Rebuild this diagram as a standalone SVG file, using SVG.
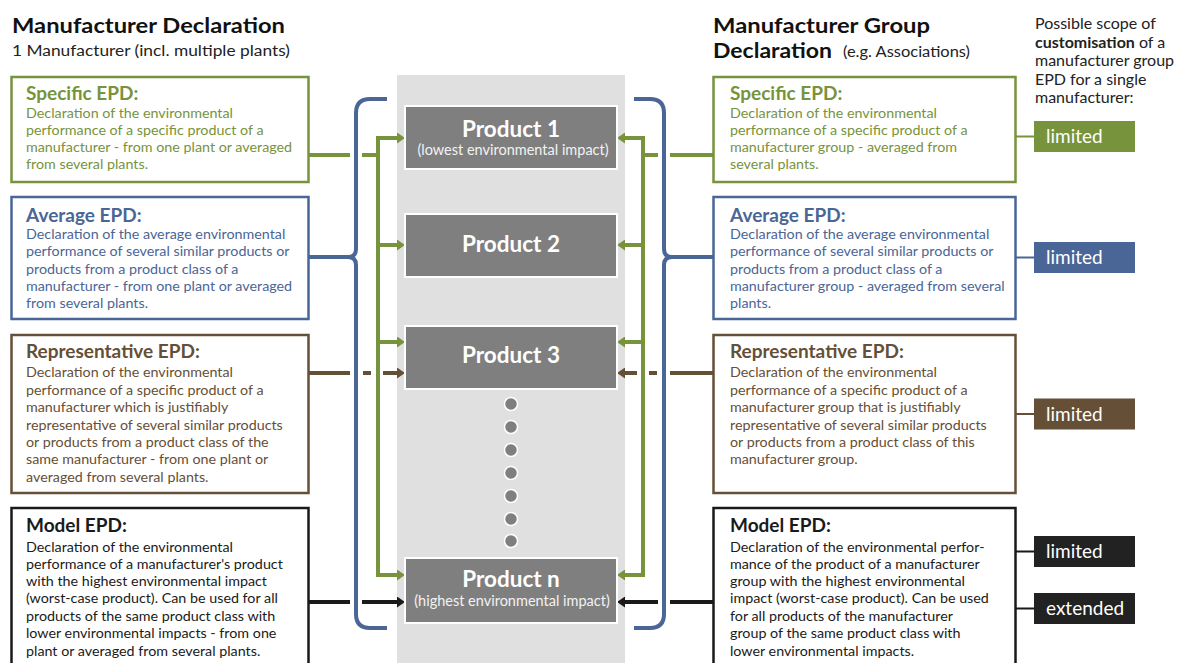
<svg xmlns="http://www.w3.org/2000/svg" width="1177" height="663" viewBox="0 0 1177 663">
<style>
text{font-family:Lato,"Liberation Sans",Arial,sans-serif}
.h{font-size:21px;font-weight:700;fill:#111}
.sub{font-size:14.5px;fill:#222}
.fr{font-size:16px;fill:#222}
.t{font-size:19px;font-weight:700}
.b{font-size:14.3px}
.g{fill:#77933C}.bl{fill:#4A6696}.br{fill:#654F36}.k{fill:#1a1a1a}
.box{fill:#fff;stroke-width:2.5}
.pbox{fill:#7F7F7F;stroke:#fff;stroke-width:2}
.pt{font-size:22.5px;font-weight:700;fill:#fff;text-anchor:middle}
.ps{font-size:14.5px;fill:#f2f2f2;text-anchor:middle}
.lim{font-size:19px;fill:#fff}
.c{fill:none;stroke-width:4}
.thin{fill:none;stroke-width:2}
.dot{fill:#7F7F7F;stroke:#fff;stroke-width:1.5}
</style>
<defs>
<marker id="ag" markerUnits="userSpaceOnUse" markerWidth="8" markerHeight="11" refX="0" refY="5.5" orient="auto-start-reverse"><path d="M0,0 L8,5.5 L0,11 z" fill="#77933C"/></marker>
<marker id="ab" markerUnits="userSpaceOnUse" markerWidth="8" markerHeight="11" refX="0" refY="5.5" orient="auto"><path d="M0,0 L8,5.5 L0,11 z" fill="#654F36"/></marker>
<marker id="ak" markerUnits="userSpaceOnUse" markerWidth="8" markerHeight="11" refX="0" refY="5.5" orient="auto"><path d="M0,0 L8,5.5 L0,11 z" fill="#1a1a1a"/></marker>
</defs>

<g id="headers">
<text class="h" x="12" y="33" textLength="273" lengthAdjust="spacingAndGlyphs">Manufacturer Declaration</text>
<text class="sub" x="12" y="56" textLength="278" lengthAdjust="spacingAndGlyphs">1 Manufacturer (incl. multiple plants)</text>
<text class="h" x="713" y="33" textLength="217" lengthAdjust="spacingAndGlyphs">Manufacturer Group</text>
<text class="h" x="713" y="58" textLength="119" lengthAdjust="spacingAndGlyphs">Declaration</text>
<text class="sub" x="843" y="57" textLength="127" lengthAdjust="spacingAndGlyphs">(e.g. Associations)</text>
<text class="fr" x="1035" y="29">Possible scope of</text>
<text class="fr" x="1035" y="47.5"><tspan font-weight="700">customisation</tspan> of a</text>
<text class="fr" x="1035" y="66">manufacturer group</text>
<text class="fr" x="1035" y="84.5">EPD for a single</text>
<text class="fr" x="1035" y="103">manufacturer:</text>
</g>

<rect id="column" x="397" y="75" width="228" height="600" fill="#E0E0E0"/>

<g id="connectors">
<path class="c" stroke="#4A6696" d="M387,99 H370 Q356,99 356,113 V249 Q356,257 348,257 H309 M348,257 Q356,257 356,265 V614 Q356,628 370,628 H387"/>
<path class="c" stroke="#4A6696" d="M634,99 H650 Q664,99 664,113 V249 Q664,257 672,257 H713 M672,257 Q664,257 664,265 V614 Q664,628 650,628 H634"/>
<path class="c" stroke="#77933C" d="M397,138 H378 V575 H397" marker-start="url(#ag)" marker-end="url(#ag)"/>
<path class="c" stroke="#77933C" d="M378,245 H397" marker-end="url(#ag)"/>
<path class="c" stroke="#77933C" d="M378,342 H397" marker-end="url(#ag)"/>
<path class="c" stroke="#77933C" d="M309,155 H350 M362,155 H378"/>
<path class="c" stroke="#77933C" d="M625,138 H643 V575 H625" marker-start="url(#ag)" marker-end="url(#ag)"/>
<path class="c" stroke="#77933C" d="M643,245 H625" marker-end="url(#ag)"/>
<path class="c" stroke="#77933C" d="M643,342 H625" marker-end="url(#ag)"/>
<path class="c" stroke="#77933C" d="M713,155 H670 M658,155 H643"/>
<path class="c" stroke="#654F36" d="M309,373 H350 M363,373 H371"/>
<path class="c" stroke="#654F36" d="M383,373 H397" marker-end="url(#ab)"/>
<path class="c" stroke="#654F36" d="M713,373 H670 M657,373 H649"/>
<path class="c" stroke="#654F36" d="M637,373 H625" marker-end="url(#ab)"/>
<path class="c" stroke="#1a1a1a" d="M309,602 H350"/>
<path class="c" stroke="#1a1a1a" d="M362,602 H397" marker-end="url(#ak)"/>
<path class="c" stroke="#1a1a1a" d="M713,602 H670"/>
<path class="c" stroke="#1a1a1a" d="M658,602 H625" marker-end="url(#ak)"/>
<path class="thin" stroke="#77933C" d="M1016,136.5 H1035"/>
<path class="thin" stroke="#4A6696" d="M1016,257.5 H1035"/>
<path class="thin" stroke="#654F36" d="M1016,414 H1035"/>
<path class="thin" stroke="#1a1a1a" d="M1016,551.5 H1035 M1016,608.5 H1035"/>
</g>

<g id="products">
<g id="product1"><rect class="pbox" x="405" y="106" width="212" height="63"/>
<text class="pt" x="511" y="137">Product 1</text><text class="ps" x="513" y="155">(lowest environmental impact)</text></g>
<g id="product2"><rect class="pbox" x="405" y="214" width="212" height="63"/>
<text class="pt" x="511" y="252">Product 2</text></g>
<g id="product3"><rect class="pbox" x="405" y="326" width="212" height="63"/>
<text class="pt" x="511" y="363">Product 3</text></g>
<g id="dots">
<circle class="dot" cx="511" cy="404" r="6.5"/><circle class="dot" cx="511" cy="427" r="6.5"/>
<circle class="dot" cx="511" cy="450" r="6.5"/><circle class="dot" cx="511" cy="473" r="6.5"/>
<circle class="dot" cx="511" cy="496" r="6.5"/><circle class="dot" cx="511" cy="519" r="6.5"/>
<circle class="dot" cx="511" cy="541" r="6.5"/></g>
<g id="productn"><rect class="pbox" x="405" y="558" width="212" height="65"/>
<text class="pt" x="511" y="587">Product n</text><text class="ps" x="512" y="606">(highest environmental impact)</text></g>
</g>

<g id="left-specific">
<rect class="box" stroke="#77933C" x="11.5" y="77" width="297" height="105"/>
<text class="t g" x="26" y="100">Specific EPD:</text>
<text class="b g" x="26" y="118">Declaration of the environmental</text>
<text class="b g" x="26" y="135">performance of a specific product of a</text>
<text class="b g" x="26" y="152">manufacturer - from one plant or averaged</text>
<text class="b g" x="26" y="168.5">from several plants.</text>
</g>
<g id="left-average">
<rect class="box" stroke="#4A6696" x="11.5" y="197" width="297" height="122"/>
<text class="t bl" x="26" y="222">Average EPD:</text>
<text class="b bl" x="26" y="238.5">Declaration of the average environmental</text>
<text class="b bl" x="26" y="256">performance of several similar products or</text>
<text class="b bl" x="26" y="273.5">products from a product class of a</text>
<text class="b bl" x="26" y="291">manufacturer - from one plant or averaged</text>
<text class="b bl" x="26" y="308">from several plants.</text>
</g>
<g id="left-representative">
<rect class="box" stroke="#654F36" x="11.5" y="335" width="297" height="158"/>
<text class="t br" x="26" y="358">Representative EPD:</text>
<text class="b br" x="26" y="377">Declaration of the environmental</text>
<text class="b br" x="26" y="394.5">performance of a specific product of a</text>
<text class="b br" x="26" y="412">manufacturer which is justifiably</text>
<text class="b br" x="26" y="429.5">representative of several similar products</text>
<text class="b br" x="26" y="447">or products from a product class of the</text>
<text class="b br" x="26" y="464">same manufacturer - from one plant or</text>
<text class="b br" x="26" y="481.5">averaged from several plants.</text>
</g>
<g id="left-model">
<rect class="box" stroke="#1a1a1a" x="11.5" y="508" width="297" height="180"/>
<text class="t k" x="26" y="532">Model EPD:</text>
<text class="b k" x="26" y="551.5">Declaration of the environmental</text>
<text class="b k" x="26" y="568.5">performance of a manufacturer's product</text>
<text class="b k" x="26" y="586">with the highest environmental impact</text>
<text class="b k" x="26" y="603">(worst-case product). Can be used for all</text>
<text class="b k" x="26" y="620.5">products of the same product class with</text>
<text class="b k" x="26" y="638">lower environmental impacts - from one</text>
<text class="b k" x="26" y="655.5">plant or averaged from several plants.</text>
</g>

<g id="right-specific">
<rect class="box" stroke="#77933C" x="713.5" y="77" width="302" height="105"/>
<text class="t g" x="730" y="100">Specific EPD:</text>
<text class="b g" x="730" y="118">Declaration of the environmental</text>
<text class="b g" x="730" y="135">performance of a specific product of a</text>
<text class="b g" x="730" y="152">manufacturer group - averaged from</text>
<text class="b g" x="730" y="168.5">several plants.</text>
</g>
<g id="right-average">
<rect class="box" stroke="#4A6696" x="713.5" y="197" width="302" height="122"/>
<text class="t bl" x="730" y="222">Average EPD:</text>
<text class="b bl" x="730" y="238.5">Declaration of the average environmental</text>
<text class="b bl" x="730" y="256">performance of several similar products or</text>
<text class="b bl" x="730" y="273.5">products from a product class of a</text>
<text class="b bl" x="730" y="291">manufacturer group - averaged from several</text>
<text class="b bl" x="730" y="308">plants.</text>
</g>
<g id="right-representative">
<rect class="box" stroke="#654F36" x="713.5" y="335" width="302" height="158"/>
<text class="t br" x="730" y="358">Representative EPD:</text>
<text class="b br" x="730" y="377">Declaration of the environmental</text>
<text class="b br" x="730" y="394.5">performance of a specific product of a</text>
<text class="b br" x="730" y="412">manufacturer group that is justifiably</text>
<text class="b br" x="730" y="429.5">representative of several similar products</text>
<text class="b br" x="730" y="447">or products from a product class of this</text>
<text class="b br" x="730" y="464">manufacturer group.</text>
</g>
<g id="right-model">
<rect class="box" stroke="#1a1a1a" x="713.5" y="508" width="302" height="180"/>
<text class="t k" x="730" y="532">Model EPD:</text>
<text class="b k" x="730" y="551.5">Declaration of the environmental perfor-</text>
<text class="b k" x="730" y="568.5">mance of the product of a manufacturer</text>
<text class="b k" x="730" y="586">group with the highest environmental</text>
<text class="b k" x="730" y="603">impact (worst-case product). Can be used</text>
<text class="b k" x="730" y="620.5">for all products of the manufacturer</text>
<text class="b k" x="730" y="638">group of the same product class with</text>
<text class="b k" x="730" y="655.5">lower environmental impacts.</text>
</g>

<g id="scope-specific"><rect x="1034" y="121" width="101" height="31" fill="#77933C"/><text class="lim" x="1046" y="143">limited</text></g>
<g id="scope-average"><rect x="1034" y="242" width="101" height="31" fill="#4A6696"/><text class="lim" x="1046" y="264">limited</text></g>
<g id="scope-representative"><rect x="1034" y="398.5" width="101" height="31" fill="#654F36"/><text class="lim" x="1046" y="420.5">limited</text></g>
<g id="scope-model-limited"><rect x="1034" y="536" width="101" height="31" fill="#222"/><text class="lim" x="1046" y="558">limited</text></g>
<g id="scope-model-extended"><rect x="1034" y="593" width="101" height="31" fill="#222"/><text class="lim" x="1046" y="615">extended</text></g>
</svg>
